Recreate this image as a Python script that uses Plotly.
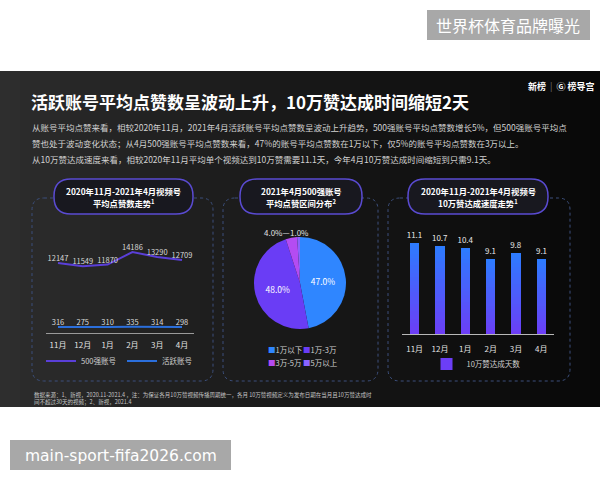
import plotly.graph_objects as go

W, H = 600, 480
FONT = "Noto Sans CJK SC, Noto Sans, sans-serif"


def X(px):
    return px / W


def Y(py):
    return 1 - py / H


# ---------------- data ----------------
months = ["11月", "12月", "1月", "2月", "3月", "4月"]
top500_likes = [12147, 11549, 11870, 14186, 13290, 12709]
active_likes = [316, 275, 310, 335, 314, 298]

pie_labels = ["1万以下", "1万-3万", "3万-5万", "5万以上"]
pie_values = [47.0, 48.0, 4.0, 1.0]
pie_colors = ["#2f86ff", "#6a3df5", "#b44cf2", "#8a63ff"]

days_to_100k = [11.1, 10.7, 10.4, 9.1, 9.8, 9.1]

title_text = "活跃账号平均点赞数呈波动上升，10万赞达成时间缩短2天"
para_lines = [
    "从账号平均点赞来看，相较2020年11月，2021年4月活跃账号平均点赞数呈波动上升趋势，500强账号平均点赞数增长5%，但500强账号平均点",
    "赞也处于波动变化状态；从4月500强账号平均点赞数来看，47%的账号平均点赞数在1万以下，仅5%的账号平均点赞数在3万以上。",
    "从10万赞达成速度来看，相较2020年11月平均单个视频达到10万赞需要11.1天，今年4月10万赞达成时间缩短到只需9.1天。",
]
foot_lines = [
    "数据来源：1、新视，2020.11-2021.4 ，注：为保证各月10万赞视频传播周期统一，各月 10万赞视频定义为发布日期在当月且10万赞达成时",
    "间不超过30天的视频；2、新视，2021.4",
]
pill_titles = [
    ("2020年11月-2021年4月视频号", "平均点赞数走势<sup>1</sup>"),
    ("2021年4月500强账号", "平均点赞区间分布<sup>2</sup>"),
    ("2020年11月-2021年4月视频号", "10万赞达成速度走势<sup>1</sup>"),
]

fig = go.Figure()

# ---------------- line chart ----------------
fig.add_trace(go.Scatter(
    x=months, y=top500_likes, mode="lines+text", name="500强账号",
    text=[str(v) for v in top500_likes], textposition="top center",
    textfont=dict(color="#d8d8d8", size=7.5, family=FONT),
    line=dict(color="#5a3fd8", width=2), xaxis="x", yaxis="y",
    legend="legend", cliponaxis=False, hoverinfo="skip",
))
fig.add_trace(go.Scatter(
    x=months, y=active_likes, mode="lines+text", name="活跃账号",
    text=[str(v) for v in active_likes], textposition="top center",
    textfont=dict(color="#d8d8d8", size=7.5, family=FONT),
    line=dict(color="#2b6fdc", width=2), xaxis="x", yaxis="y",
    legend="legend", cliponaxis=False, hoverinfo="skip",
))

# ---------------- pie chart ----------------
fig.add_trace(go.Pie(
    labels=pie_labels, values=pie_values, sort=False, direction="clockwise",
    rotation=0, marker=dict(colors=pie_colors, line=dict(width=0)),
    texttemplate="%{value:.1f}%",
    textposition=["inside", "inside", "none", "none"],
    insidetextorientation="horizontal",
    textfont=dict(color="#ffffff", size=8.5, family=FONT),
    domain=dict(x=[X(254), X(346)], y=[Y(329), Y(237)]),
    showlegend=False, hoverinfo="skip",
))

# ---------------- bar chart (vertical gradient) ----------------
N = 24
top_rgb = (44, 124, 255)
bot_rgb = (108, 62, 246)
for i in range(N):
    f = i / N
    t = (i + 0.5) / N
    col = "rgb(%d,%d,%d)" % tuple(round(b + (a - b) * t) for a, b in zip(top_rgb, bot_rgb))
    last = i == N - 1
    fig.add_trace(go.Bar(
        x=months, y=[v * (1 - f) for v in days_to_100k],
        base=[v * f for v in days_to_100k],
        marker=dict(color=col if i > 0 else "rgb(%d,%d,%d)" % bot_rgb, line=dict(width=0)),
        width=0.37, xaxis="x2", yaxis="y2",
        name="10万赞达成天数", showlegend=(i == 0), legend="legend2",
        text=[f"{v:.1f}" for v in days_to_100k] if last else None,
        textposition="outside" if last else "none", constraintext="none",
        textfont=dict(color="#e8e8e8", size=8, family=FONT),
        cliponaxis=False, hoverinfo="skip",
    ))

# ---------------- shapes ----------------
shapes = []
# watermark boxes
shapes.append(dict(type="rect", xref="paper", yref="paper", x0=X(427), x1=X(590),
                   y0=Y(40), y1=Y(10), fillcolor="#a8a8a8", line=dict(width=0), layer="below"))
shapes.append(dict(type="rect", xref="paper", yref="paper", x0=X(10), x1=X(231),
                   y0=Y(470), y1=Y(440), fillcolor="#a8a8a8", line=dict(width=0), layer="below"))

# dark gradient panel
S = 60
for k in range(S):
    t = k / (S - 1)
    g = round(46 - 38 * (t ** 0.8))
    shapes.append(dict(type="rect", xref="paper", yref="paper",
                       x0=X(600 * k / S), x1=X(600 * (k + 1) / S) + 0.002,
                       y0=Y(407), y1=Y(71),
                       fillcolor="rgb(%d,%d,%d)" % (g, g, g), line=dict(width=0), layer="below"))


def rrect(x0, y0, x1, y1, r):
    p = [
        ("M", (x0 + r, y0)), ("L", (x1 - r, y0)), ("Q", (x1, y0), (x1, y0 + r)),
        ("L", (x1, y1 - r)), ("Q", (x1, y1), (x1 - r, y1)), ("L", (x0 + r, y1)),
        ("Q", (x0, y1), (x0, y1 - r)), ("L", (x0, y0 + r)), ("Q", (x0, y0), (x0 + r, y0)),
    ]
    s = ""
    for item in p:
        s += item[0] + " ".join("%.5f,%.5f" % (X(a), Y(b)) for a, b in item[1:]) + " "
    return s + "Z"


boxes = [(32, 198, 213, 381), (223, 198, 378, 381), (388, 198, 570, 381)]
for (x0, y0, x1, y1) in boxes:
    shapes.append(dict(type="path", xref="paper", yref="paper", path=rrect(x0, y0, x1, y1, 12),
                       line=dict(color="#3c4f7c", width=1, dash="3px,3px"), layer="below"))

pills = [(54, 179, 193, 214), (240, 179, 362, 214), (408, 179, 548, 214)]
for (x0, y0, x1, y1) in pills:
    shapes.append(dict(type="path", xref="paper", yref="paper", path=rrect(x0, y0, x1, y1, 17),
                       fillcolor="#18181f", line=dict(color="#5a4bd2", width=1.5), layer="below"))

# ---------------- annotations ----------------
ann = []


def note(text, x, y, size, color="#ffffff", xanchor="center", family=FONT):
    ann.append(dict(text=text, x=X(x), y=Y(y), xref="paper", yref="paper",
                    xanchor=xanchor, yanchor="middle", showarrow=False,
                    font=dict(color=color, size=size, family=family)))


note("世界杯体育品牌曝光", 508, 25.5, 16)
note("main-sport-fifa2026.com", 120.5, 455.5, 15.5, family="DejaVu Sans, sans-serif")
note("<b>" + title_text + "</b>", 29, 101, 17, xanchor="left")
for i, line in enumerate(para_lines):
    note(line, 30, 126.5 + 16 * i, 8.5, color="#d2d2d2", xanchor="left")
for i, line in enumerate(foot_lines):
    note(line, 32, 395 + 6.8 * i, 5.5, color="#c4c4c4", xanchor="left")
note("<b>新榜</b>  <span style='color:#777'>|</span>  <b>Ⓖ 榜导宫</b>", 597, 86, 9, xanchor="right")
for (x0, y0, x1, y1), (l1, l2) in zip(pills, pill_titles):
    cx = (x0 + x1) / 2
    note("<b>" + l1 + "</b>", cx, 190.5, 8.3)
    note("<b>" + l2 + "</b>", cx, 202.5, 8.3)

# small pie slice labels
note(f"{pie_values[2]:.1f}%—", 277, 233, 8, color="#e0e0e0")
note(f"{pie_values[3]:.1f}%", 299, 233, 8, color="#e0e0e0")

# pie legend (2 x 2 grid)
leg_pos = [(266, 349), (301, 349), (266, 362), (301, 362)]
for (lx, ly), lab, col in zip(leg_pos, pie_labels, pie_colors):
    note(f"<span style='color:{col}'>■</span>{lab}", lx, ly, 7.5, color="#d0d0d0", xanchor="left")

leg_common = dict(orientation="h", xanchor="center", yanchor="middle", bgcolor="rgba(0,0,0,0)",
                  font=dict(color="#d0d0d0", size=7.5, family=FONT), itemclick=False,
                  itemdoubleclick=False, tracegroupgap=0, itemwidth=30)

fig.update_layout(
    width=W, height=H, margin=dict(l=0, r=0, t=0, b=0),
    paper_bgcolor="#ffffff", plot_bgcolor="rgba(0,0,0,0)",
    font=dict(family=FONT), barmode="overlay", bargap=0,
    shapes=shapes, annotations=ann, hovermode=False,
    xaxis=dict(domain=[X(45.6), X(194.4)], anchor="y", type="category", range=[-0.5, 5.5],
               showline=True, linecolor="#9a9a9a", linewidth=1, showgrid=False, zeroline=False,
               ticks="", tickfont=dict(color="#e2e2e2", size=8, family=FONT), ticklabelstandoff=4,
               fixedrange=True),
    yaxis=dict(domain=[Y(333), Y(225)], anchor="x", range=[-800, 19200], visible=False, fixedrange=True),
    xaxis2=dict(domain=[X(402), X(554)], anchor="y2", type="category", range=[-0.5, 5.5],
                showline=True, linecolor="#b8b8b8", linewidth=1, showgrid=False, zeroline=False,
                ticks="", tickfont=dict(color="#e2e2e2", size=8, family=FONT), ticklabelstandoff=7,
                fixedrange=True),
    yaxis2=dict(domain=[Y(334), Y(225)], anchor="x2", range=[0, 13.24], visible=False, fixedrange=True),
    legend=dict(x=X(122), y=Y(361), entrywidth=36, **leg_common),
    legend2=dict(x=X(476), y=Y(364), **leg_common),
)

fig.write_html("out.html")
